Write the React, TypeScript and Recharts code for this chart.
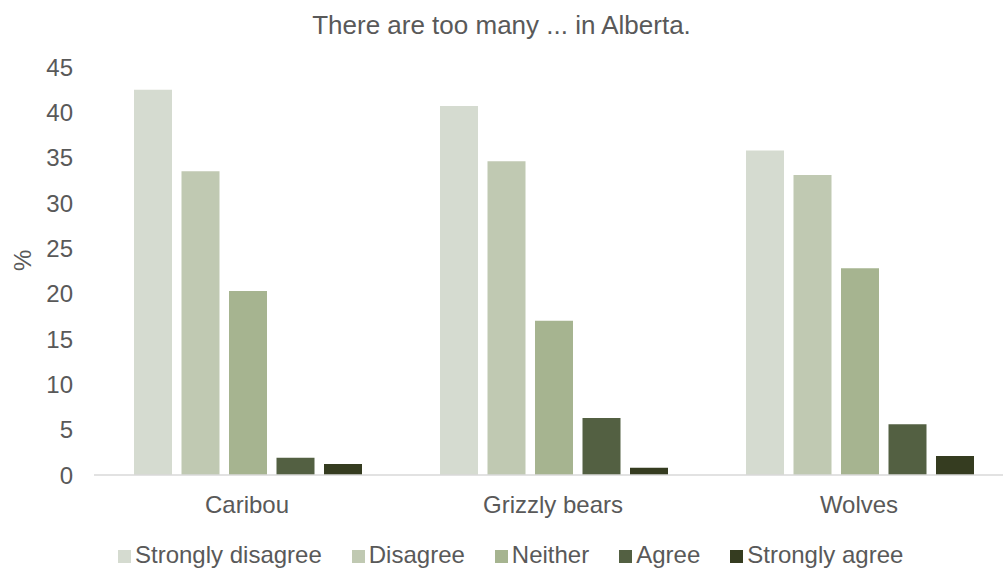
import { BarChart, Bar, XAxis, YAxis, Label } from 'recharts';

const animals = ['Caribou', 'Grizzly bears', 'Wolves'];
const stronglyDisagree = [42.5, 40.7, 35.8];
const disagree = [33.5, 34.6, 33.1];
const neither = [20.3, 17.0, 22.8];
const agree = [1.9, 6.3, 5.6];
const stronglyAgree = [1.2, 0.8, 2.1];
const yTicks = [0, 5, 10, 15, 20, 25, 30, 35, 40, 45];

const series = [
  { key: 'sd', name: 'Strongly disagree', values: stronglyDisagree, color: '#d5dbd0' },
  { key: 'd', name: 'Disagree', values: disagree, color: '#c0c9b2' },
  { key: 'n', name: 'Neither', values: neither, color: '#a6b490' },
  { key: 'a', name: 'Agree', values: agree, color: '#536042' },
  { key: 'sa', name: 'Strongly agree', values: stronglyAgree, color: '#353c20' },
];

const data = animals.map((name, i) => {
  const row: Record<string, string | number> = { name };
  series.forEach((s) => { row[s.key] = s.values[i]; });
  return row;
});

const font = '"Liberation Sans", Arial, sans-serif';
const textColor = '#595959';

function LegendRow() {
  return (
    <div style={{ position: 'absolute', top: 540, left: 118, display: 'flex', gap: 30, fontSize: 24, color: textColor, lineHeight: '30px', whiteSpace: 'nowrap' }}>
      {series.map((s) => (
        <div key={s.key} style={{ display: 'flex', alignItems: 'center', gap: 4 }}>
          <span style={{ width: 13, height: 13, background: s.color, display: 'inline-block', marginTop: 3 }} />
          <span>{s.name}</span>
        </div>
      ))}
    </div>
  );
}

export default function App() {
  return (
    <div style={{ position: 'absolute', left: 0, top: 0, width: 1003, height: 572, background: '#fff', fontFamily: font, overflow: 'hidden' }}>
      <div style={{ position: 'absolute', top: 10, width: 1003, textAlign: 'center', fontSize: 26, color: textColor }}>
        There are too many ... in Alberta.
      </div>
      <BarChart
        width={1003}
        height={572}
        data={data}
        margin={{ top: 67, right: -9, bottom: 67, left: 0 }}
        barGap={9.5}
        barCategoryGap={40}
      >
        <XAxis
          dataKey="name"
          axisLine={{ stroke: '#d9d9d9', strokeWidth: 1.5 }}
          tickLine={false}
          tickSize={0}
          tickMargin={21}
          tick={{ fill: textColor, fontSize: 24, fontFamily: font }}
        />
        <YAxis
          domain={[0, 45]}
          ticks={yTicks}
          width={94}
          axisLine={false}
          tickLine={false}
          tickSize={0}
          tickMargin={21}
          tick={{ fill: textColor, fontSize: 24, fontFamily: font }}
        >
          <Label value="%" angle={-90} position="insideLeft" offset={22} style={{ fill: textColor, fontSize: 24, fontFamily: font }} />
        </YAxis>
        {series.map((s) => (
          <Bar key={s.key} dataKey={s.key} name={s.name} fill={s.color} isAnimationActive={false} />
        ))}
      </BarChart>
      <LegendRow />
    </div>
  );
}
